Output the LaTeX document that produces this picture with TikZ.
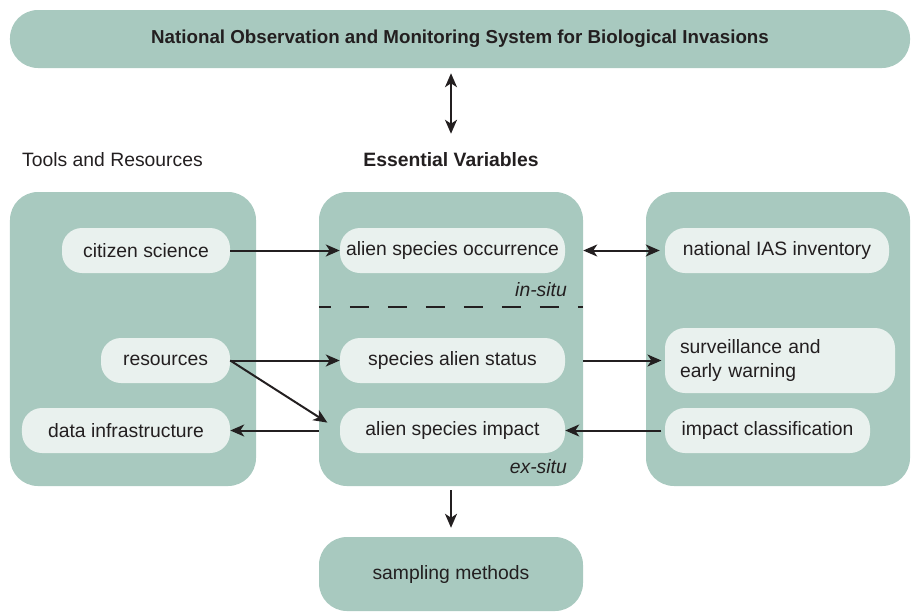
\documentclass[tikz,border=0pt]{standalone}
\usepackage{fontspec}
\setmainfont{Liberation Sans}
\usetikzlibrary{arrows.meta,positioning,calc}
\definecolor{sage}{RGB}{168,201,191}
\definecolor{mist}{RGB}{233,241,238}
\definecolor{ink}{RGB}{35,31,32}
\newcommand{\lblsize}{\fontsize{16.5}{21}\selectfont}

\begin{document}
\begin{tikzpicture}[x=0.3mm, y=-0.3mm,
  txt/.style={text=ink, font=\lblsize},
  panel/.style={txt, fill=sage, rounded corners=8.4mm, inner sep=0pt},
  pill/.style={txt, fill=mist, rounded corners=6mm, minimum height=13.5mm, inner sep=0pt},
  link/.style={draw=ink, line width=1.7pt, -{Stealth[length=4.2mm,width=3.6mm,inset=1.2mm]}},
  both/.style={link, {Stealth[length=4.2mm,width=3.6mm,inset=1.2mm]}-{Stealth[length=4.2mm,width=3.6mm,inset=1.2mm]}}]
\useasboundingbox (0,0) rectangle (912,612);

% top banner
\node[panel, minimum width=270mm, minimum height=17.4mm, font=\fontsize{16}{20}\selectfont\bfseries] (nos) at (460,39)
  {National Observation and Monitoring System for Biological Invasions};

% headings
\node[txt, anchor=west, inner xsep=0pt] (toolshead) at (22,160) {Tools and Resources};
\node[txt, font=\lblsize\bfseries] (evhead) at (451,160) {Essential Variables};

% three panels and the bottom one
\node[panel, minimum width=73.8mm, minimum height=88.2mm] (tools) at (133,339) {};
\node[panel, minimum width=79.2mm, minimum height=88.2mm] (ev) at (451,339) {};
\node[panel, minimum width=79.2mm, minimum height=88.2mm] (use) at (778,339) {};
\node[panel, minimum width=79.2mm, minimum height=22.2mm] (samp) at (451,574) {sampling methods};

% dashed split of the middle panel
\coordinate (cut) at (451,307);
\draw[ink, line width=1.7pt, dash pattern=on 5.7mm off 5.7mm, dash phase=2.1mm] (cut -| ev.west) -- (cut -| ev.east);
\node[txt, anchor=east, inner xsep=0pt, font=\lblsize\itshape] (insitu) at (567,290) {in-situ};
\node[txt, anchor=east, inner xsep=0pt, font=\lblsize\itshape] (exsitu) at (567,467) {ex-situ};

% left panel
\node[pill, minimum width=50.4mm] (cit) at (146,250.5) {citizen science};
\node[pill, minimum width=38.7mm] (res) at (165.5,360.5) {resources};
\node[pill, minimum width=62.4mm] (data) at (126,430.5) {data infrastructure};

% middle panel
\node[pill, minimum width=67.5mm] (occ) at (452.5,250.5) {alien species occurrence};
\node[pill, minimum width=67.5mm] (stat) at (452.5,360.5) {species alien status};
\node[pill, minimum width=67.5mm] (imp) at (452.5,430.5) {alien species impact};

% right panel
\node[pill, minimum width=67.2mm] (inv) at (777,250.5) {national IAS inventory};
\node[pill, align=left, text width=60mm, inner xsep=4.5mm, minimum height=19.5mm] (surv) at (780,360.5)
  {surveillance and\\early warning};
\node[pill, minimum width=61.5mm] (cls) at (767.5,430.5) {impact classification};

% connectors
\draw[both, shorten <=1.5mm, shorten >=4.5mm] (evhead.north |- nos.south) -- (evhead.north);
\draw[link] (cit.east) -- (occ.west);
\draw[both, shorten >=1.5mm] (occ -| ev.east) -- (inv.west);
\draw[link] (res.east) -- (stat.west);
\draw[link, shorten >=4.4mm] (res.east) -- (imp.west);
\draw[link] (imp -| ev.west) -- (data.east);
\draw[link, shorten >=1mm] (stat -| ev.east) -- (surv.west);
\draw[link, shorten <=1mm] (cls.west) -- (imp.east);
\draw[link, shorten <=1.2mm, shorten >=2.7mm] (ev.south) -- (samp.north);
\end{tikzpicture}
\end{document}
